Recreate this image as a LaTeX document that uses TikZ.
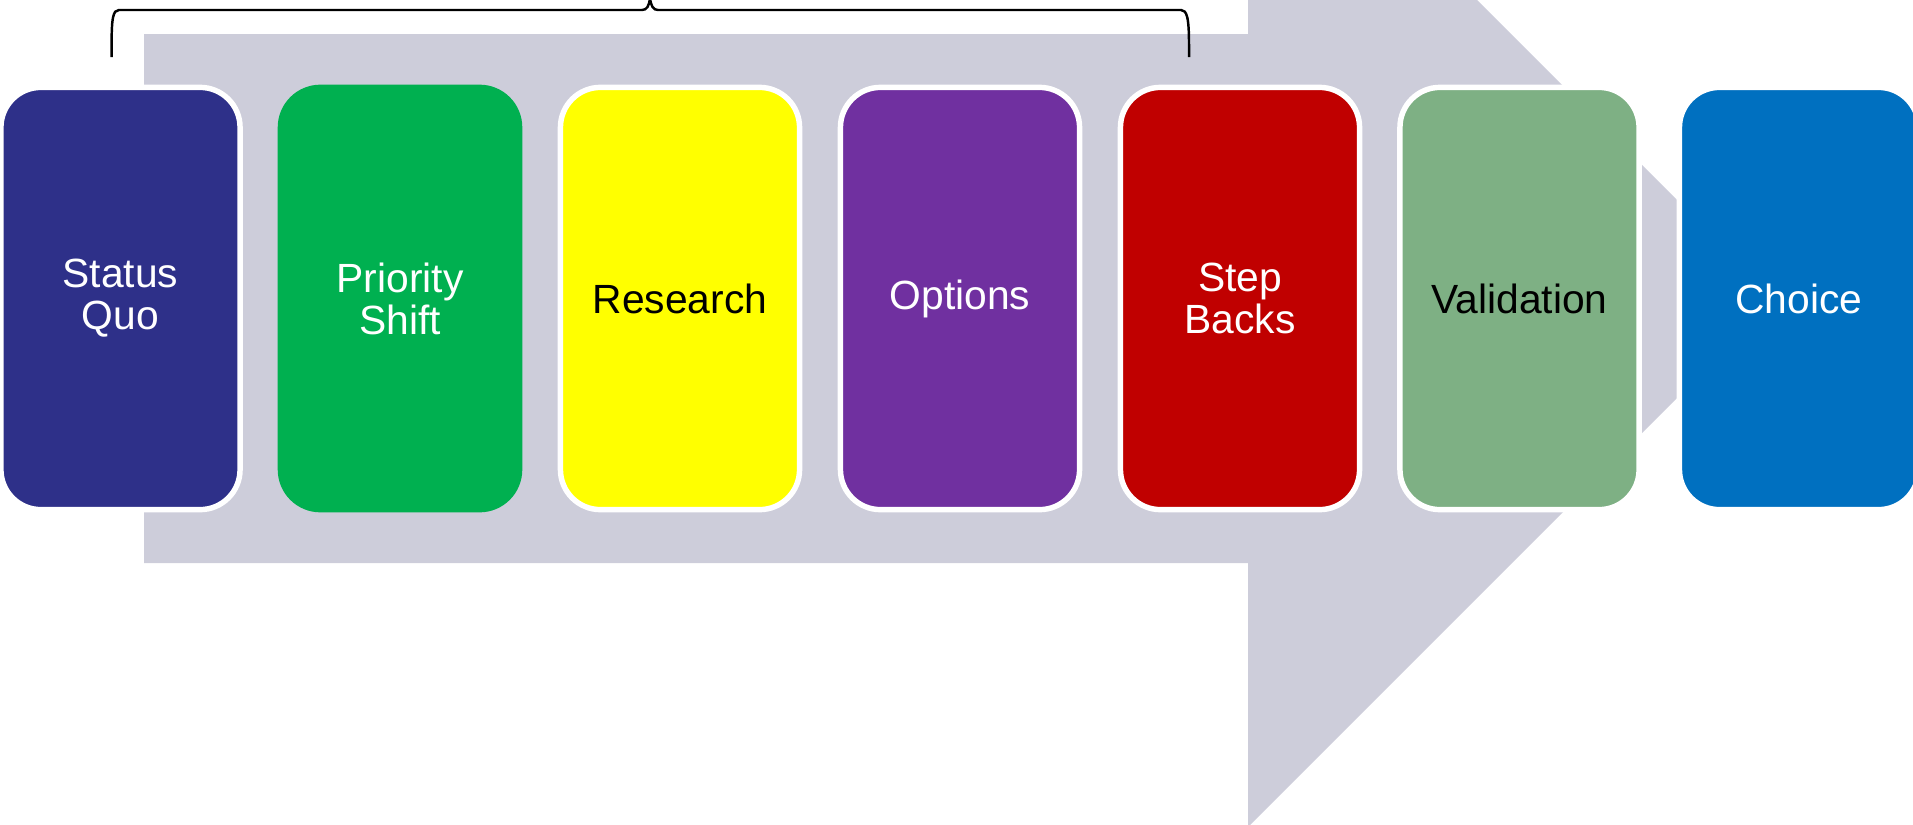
\documentclass[tikz,border=0pt]{standalone}
\usepackage{fontspec}
\setmainfont{Liberation Sans}
\usepackage{tikz}

\definecolor{flcgray}{RGB}{205,205,218}
\definecolor{quo}{RGB}{46,48,137}
\definecolor{shift}{RGB}{0,176,80}
\definecolor{research}{RGB}{255,255,0}
\definecolor{options}{RGB}{112,48,160}
\definecolor{stepback}{RGB}{192,0,0}
\definecolor{valid}{RGB}{126,176,132}
\definecolor{choice}{RGB}{0,112,192}

\begin{document}
\begin{tikzpicture}[x=0.01cm, y=-0.01cm,
  stg/.style = {draw=white, line width=1.55pt, rounded corners=0.4cm,
                minimum width=2.39cm, minimum height=4.22cm, inner sep=0pt,
                align=center, font=\fontsize{11.6}{11.9}\selectfont},
  brc/.style = {black, line width=0.7pt},
  flc/.style = {fill=flcgray}
]
\useasboundingbox (0,0) rectangle (1913,824);
\clip (0,0) rectangle (1913,824);

% --- big arrow in the back ---
\fill[flc] (144,34) -- (1248,34) -- (1248,-229) -- (1776,299)
  -- (1248,827) -- (1248,563) -- (144,563) -- cycle;

% --- brace over the first five steps ---
\draw[brc] (111.6,57) -- (111.6,45) .. controls (111.6,18) and (113,10) .. (119,10)
  -- (642,10) .. controls (647,10) and (649,6) .. (650,-2)
  .. controls (651,6) and (653,10) .. (658,10)
  -- (1181,10) .. controls (1187,10) and (1189,18) .. (1189,45) -- (1189,57);

% --- the seven steps ---
\node[stg, fill=quo, text=white]                (quo)      at (120.5,298.5)  {Status\\Quo};
\node[stg, fill=shift, draw=shift, text=white]  (shift)    at (400,298.5)    {Priority\\Shift};
\node[stg, fill=research]                       (research) at (680,298.5)    {Research};
\node[stg, fill=options, text=white]            (options)  at (960,298.5)    {Options};
\node[stg, fill=stepback, text=white]           (stepback) at (1240,298.5)   {Step\\Backs};
\node[stg, fill=valid]                          (valid)    at (1519.5,298.5) {Validation};
\node[stg, fill=choice, text=white]             (choice)   at (1799,298.5)   {Choice};
\end{tikzpicture}
\end{document}
